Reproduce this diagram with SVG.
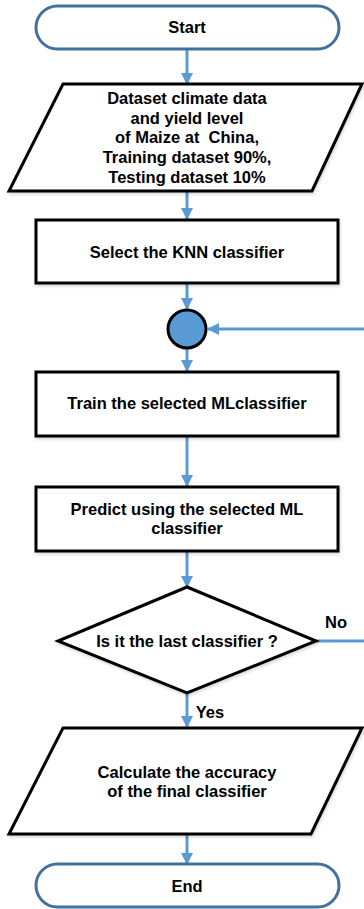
<svg xmlns="http://www.w3.org/2000/svg" width="364" height="909" viewBox="0 0 364 909">
<defs>
<marker id="ah" markerUnits="userSpaceOnUse" markerWidth="12" markerHeight="12" viewBox="0 0 12 12" refX="11" refY="6" orient="auto">
<path d="M0,0 L12,6 L0,12 Z" fill="#5B9BD5"/>
</marker>
<filter id="sh" x="-10%" y="-10%" width="120%" height="130%">
<feDropShadow dx="1" dy="2" stdDeviation="1.5" flood-color="#000" flood-opacity="0.15"/>
</filter>
</defs>
<style>
.term{fill:#fff;stroke:#41719C;stroke-width:3}
.box{fill:#fff;stroke:#000;stroke-width:3;filter:url(#sh)}
.t{font-family:"Liberation Sans",Arial,sans-serif;font-weight:bold;font-size:16.5px;fill:#000;text-anchor:middle}
.c{stroke:#5B9BD5;stroke-width:3;fill:none}
</style>
<g id="connectors">
<line class="c" x1="187" y1="49" x2="187" y2="84" marker-end="url(#ah)"/>
<line class="c" x1="187" y1="192" x2="187" y2="219" marker-end="url(#ah)"/>
<line class="c" x1="187" y1="284" x2="187" y2="309" marker-end="url(#ah)"/>
<line class="c" x1="187" y1="349" x2="187" y2="371" marker-end="url(#ah)"/>
<line class="c" x1="187" y1="437" x2="187" y2="486" marker-end="url(#ah)"/>
<line class="c" x1="187" y1="552" x2="187" y2="587" marker-end="url(#ah)"/>
<line class="c" x1="187" y1="693" x2="187" y2="727" marker-end="url(#ah)"/>
<line class="c" x1="187" y1="835" x2="187" y2="864" marker-end="url(#ah)"/>
<line class="c" x1="316" y1="641" x2="364" y2="641"/>
<line class="c" x1="364" y1="329" x2="208" y2="329" stroke-width="2" marker-end="url(#ah)"/>
<text class="t" x="336" y="628">No</text>
<text class="t" x="210" y="718">Yes</text>
</g>
<g id="start">
<rect class="term" x="36" y="6" width="303" height="43" rx="21.5"/>
<text class="t" x="187" y="33">Start</text>
</g>
<g id="dataset">
<polygon class="box" points="63,84 362,84 312,191 9,191"/>
<text class="t" x="187" y="104">Dataset climate data</text>
<text class="t" x="187" y="124">and yield level</text>
<text class="t" x="187" y="143" xml:space="preserve">of Maize at  China,</text>
<text class="t" x="187" y="163">Training dataset 90%,</text>
<text class="t" x="187" y="183">Testing dataset 10%</text>
</g>
<g id="select">
<rect class="box" x="36" y="220" width="302" height="63"/>
<text class="t" x="187" y="258">Select the KNN classifier</text>
</g>
<g id="loop">
<circle cx="187" cy="329" r="19" fill="#5B9BD5" stroke="#000" stroke-width="3"/>
</g>
<g id="train">
<rect class="box" x="36" y="372" width="302" height="64"/>
<text class="t" x="187" y="409">Train the selected MLclassifier</text>
</g>
<g id="predict">
<rect class="box" x="36" y="487" width="302" height="64"/>
<text class="t" x="187" y="515">Predict using the selected ML</text>
<text class="t" x="187" y="534">classifier</text>
</g>
<g id="decision">
<polygon class="box" points="187,587 316,641 187,693 58,641"/>
<text class="t" x="187" y="647">Is it the last classifier ?</text>
</g>
<g id="calc">
<polygon class="box" points="63,728 362,728 311,834 9,834"/>
<text class="t" x="187" y="778">Calculate the accuracy</text>
<text class="t" x="187" y="797">of the final classifier</text>
</g>
<g id="end">
<rect class="term" x="36" y="864" width="303" height="43" rx="21.5"/>
<text class="t" x="187" y="892">End</text>
</g>
</svg>
